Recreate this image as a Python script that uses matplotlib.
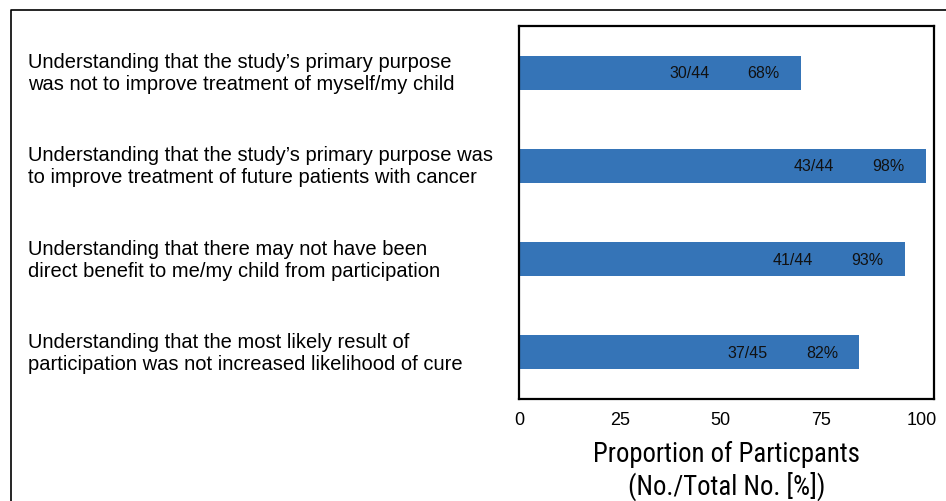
import matplotlib
matplotlib.use("Agg")
import matplotlib.pyplot as plt
from matplotlib.lines import Line2D
from matplotlib.transforms import blended_transform_factory, ScaledTranslation

# dados do grafico
categorias = [
    "Understanding that the study\u2019s primary purpose\nwas not to improve treatment of myself/my child",
    "Understanding that the study\u2019s primary purpose was\nto improve treatment of future patients with cancer",
    "Understanding that there may not have been\ndirect benefit to me/my child from participation",
    "Understanding that the most likely result of\nparticipation was not increased likelihood of cure",
]
fracoes = ["30/44", "43/44", "41/44", "37/45"]
percentuais = [68, 98, 93, 82]
ticks_x = [0, 25, 50, 75, 100]

plt.rcParams["font.family"] = ["Liberation Sans", "DejaVu Sans"]
cor_barra = "#3574b7"

W, H = 946, 502
fig = plt.figure(figsize=(W / 100, H / 100), dpi=100)

# moldura externa (so esquerda e topo)
fig.add_artist(Line2D([11 / W, 11 / W, 1], [0, 1 - 11 / H, 1 - 11 / H],
                      transform=fig.transFigure, color="black", lw=1.2))

ax = fig.add_axes([519 / W, 1 - 400 / H, 415 / W, 373 / H])
y = list(range(len(categorias)))
ax.barh(y, percentuais, height=0.365, color=cor_barra)
ax.set_xlim(0, 100)
ax.set_ylim(len(categorias) - 0.5, -0.5)
ax.set_yticks([])
ax.set_xticks(ticks_x)
ax.tick_params(axis="x", length=0, pad=9, labelsize=13)
for s in ax.spines.values():
    s.set_linewidth(1.6)
    s.set_color("black")

# no original os numeros do eixo ficam um pouco deslocados para a esquerda
for v, lbl in zip(ticks_x, ax.get_xticklabels()):
    lbl.set_transform(lbl.get_transform() +
                      ScaledTranslation(-0.12 * v / 100, 0, fig.dpi_scale_trans))

# rotulos dentro das barras
for i, (f, p) in enumerate(zip(fracoes, percentuais)):
    ax.text(p - 27, i, f, ha="center", va="center", fontsize=11.5, color="#111111")
    ax.text(p - 9, i, f"{p}%", ha="center", va="center", fontsize=11.5, color="#111111")

# categorias a esquerda
trans = blended_transform_factory(fig.transFigure, ax.transData)
for i, c in enumerate(categorias):
    ax.text(28 / W, i, c, transform=trans, ha="left", va="center",
            fontsize=14.5, linespacing=1.2, clip_on=False)

fig.text((519 + 934) / 2 / W, 1 - 471 / H,
         "Proportion of Particpants\n(No./Total No. [%])",
         ha="center", va="center", fontsize=19.3, linespacing=1.15,
         family=["Roboto Condensed", "DejaVu Sans"], fontstretch="condensed")

fig.savefig("out.png", dpi=100)
